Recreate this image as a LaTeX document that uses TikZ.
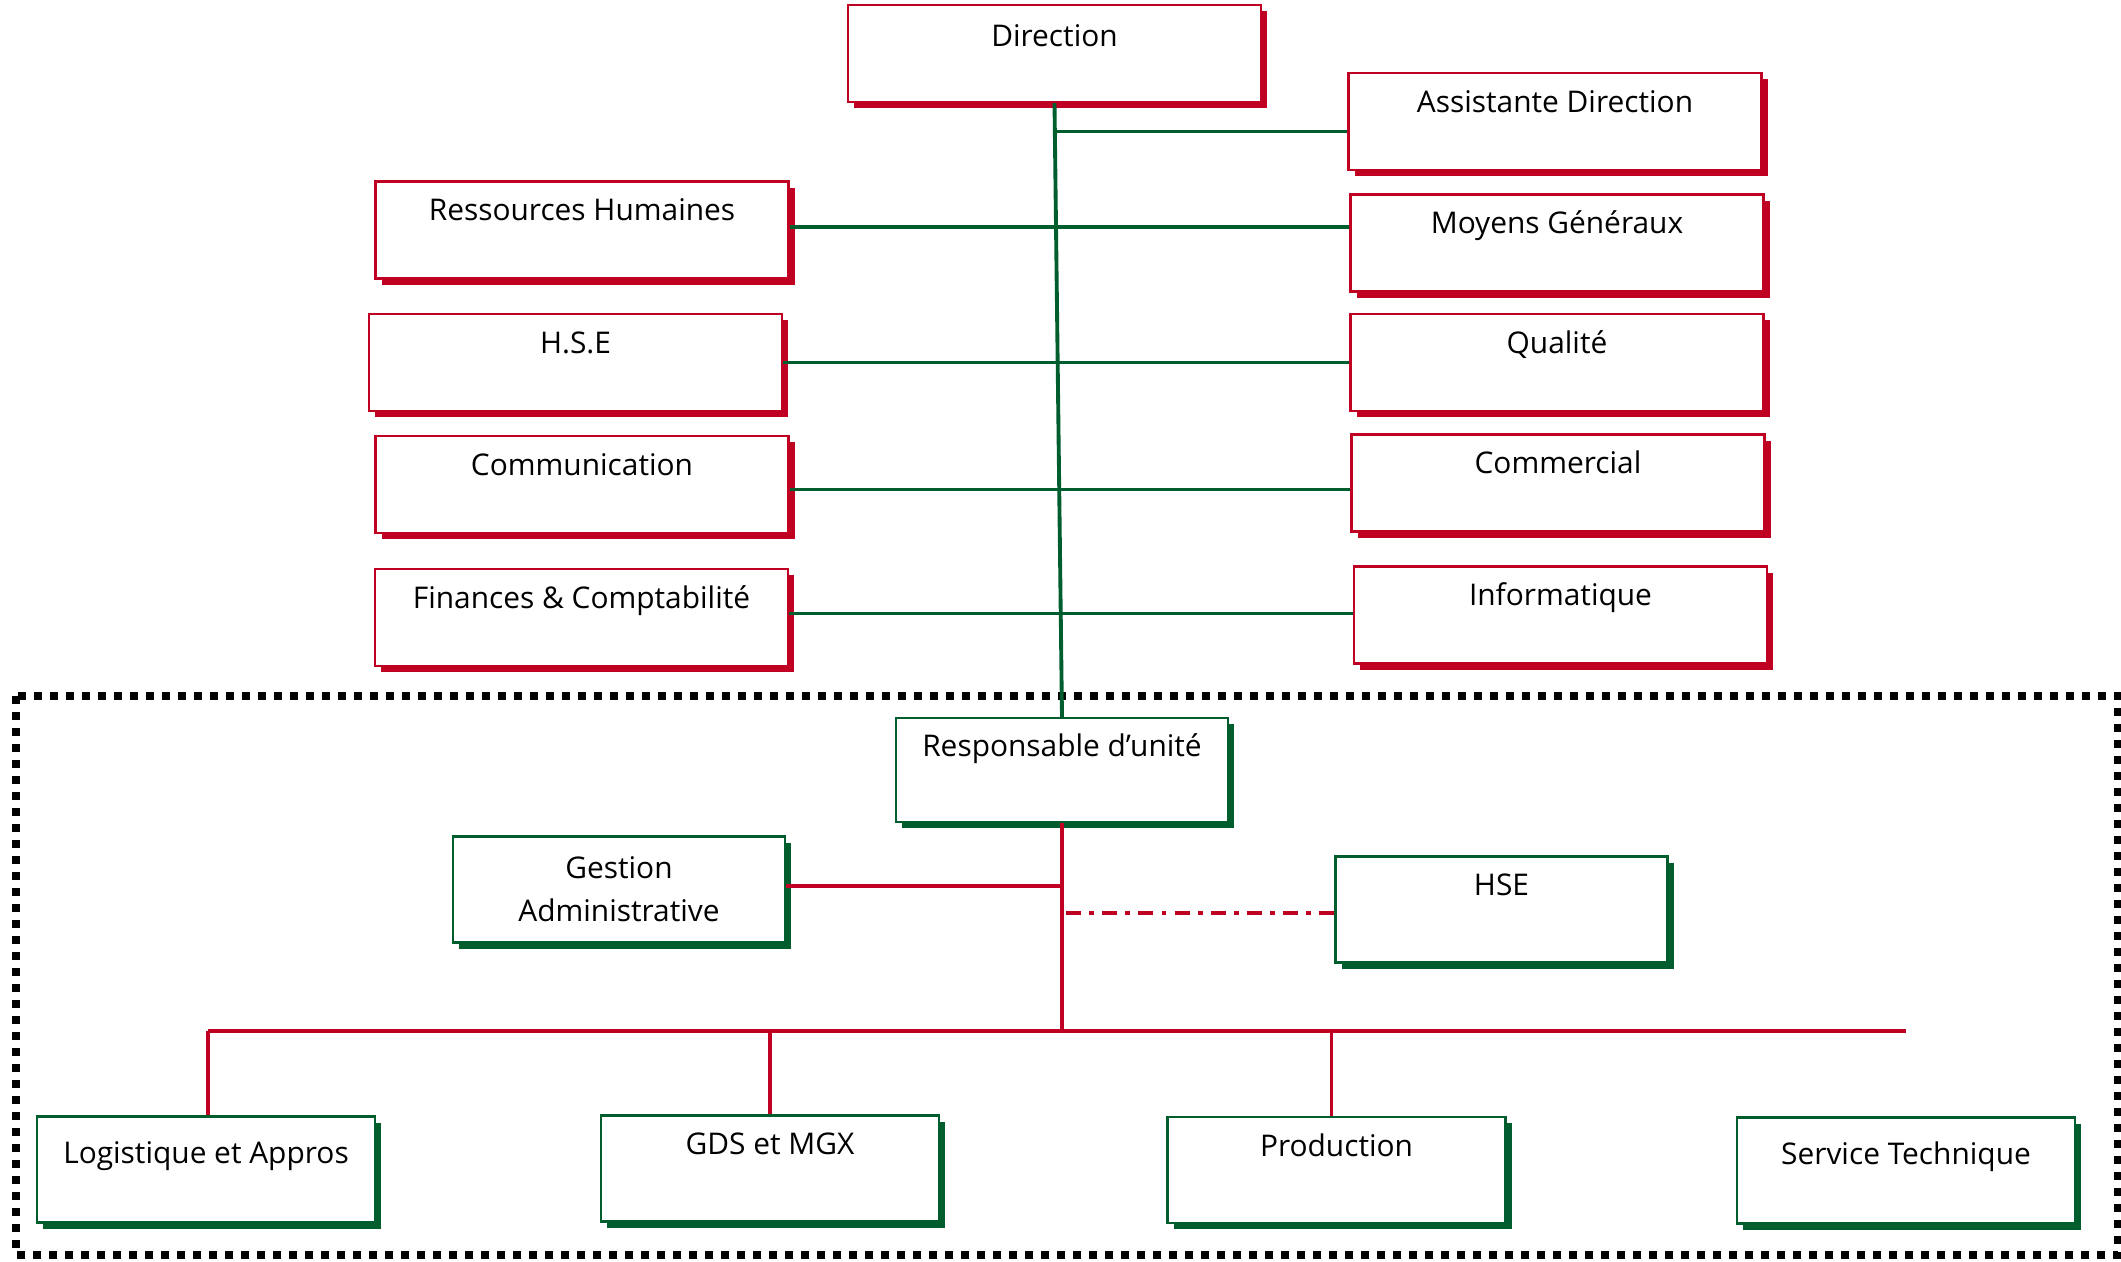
\documentclass[tikz,border=0pt]{standalone}
\usepackage{fontspec}
\setmainfont{Open Sans}
\usetikzlibrary{shadows}
\definecolor{orgred}{RGB}{192,0,34}
\definecolor{orggreen}{RGB}{0,94,46}

\begin{document}
\begin{tikzpicture}[
  dept/.style={draw=orgred, line width=0.6pt, fill=white,
               drop shadow={shadow xshift=0.06cm, shadow yshift=-0.06cm, fill=orgred, opacity=1},
               minimum width=4.13cm, minimum height=0.97cm,
               text height=0.25cm, text depth=0.44cm,
               font=\fontsize{8.5}{10.2}\selectfont},
  unit/.style={draw=orggreen, line width=0.6pt, fill=white,
               drop shadow={shadow xshift=0.06cm, shadow yshift=-0.06cm, fill=orggreen, opacity=1},
               minimum width=3.32cm, minimum height=1.06cm,
               text height=0.25cm, text depth=0.53cm,
               font=\fontsize{8.5}{10.2}\selectfont},
  gline/.style={draw=orggreen, line width=1.1pt},
  rline/.style={draw=orgred, line width=1.1pt}
]
  \useasboundingbox (0,0) rectangle (21.21,-12.61);

  %% Unit frame (dotted)
  \draw[line width=0.075cm, dash pattern=on 0.075cm off 0.085cm]
    (0.16,-6.96) rectangle (21.18,-12.55);

  %% Head office, two columns
  \node[dept, text depth=0.40cm] (dir)  at (10.545,-0.535) {Direction};
  \node[dept] (asst) at (15.55,-1.215)  {Assistante Direction};
  \node[dept] (rh)   at (5.82,-2.30)    {Ressources Humaines};
  \node[dept] (mg)   at (15.57,-2.43)   {Moyens Généraux};
  \node[dept] (hse)  at (5.755,-3.625)  {H.S.E};
  \node[dept] (qual) at (15.57,-3.625)  {Qualité};
  \node[dept] (comm) at (5.82,-4.845)   {Communication};
  \node[dept] (comr) at (15.58,-4.83)   {Commercial};
  \node[dept] (fin)  at (5.815,-6.175)  {Finances \& Comptabilité};
  \node[dept] (info) at (15.605,-6.15)  {Informatique};

  %% Unit
  \node[unit, minimum height=1.04cm] (resp) at (10.62,-7.70) {Responsable d’unité};
  \node[unit, text height=, text depth=, align=center,
        font=\fontsize{8.5}{12.2}\selectfont] (gest) at (6.19,-8.895) {Gestion\\Administrative};
  \node[unit] (hseu) at (15.015,-9.095) {HSE};
  \node[unit, minimum width=3.38cm, text depth=0.38cm] (logi) at (2.06,-11.695)  {Logistique et Appros};
  \node[unit, minimum width=3.38cm] (gds)  at (7.70,-11.685)  {GDS et MGX};
  \node[unit, minimum width=3.38cm] (prod) at (13.365,-11.70) {Production};
  \node[unit, minimum width=3.38cm, text depth=0.38cm] (svc)  at (19.06,-11.705) {Service Technique};

  %% Green links
  \draw[gline] (dir.south) -- (resp.north);
  \draw[gline] ([yshift=-0.1cm]asst.west) -- ([yshift=-0.1cm]asst.west -| dir.south);
  \draw[gline] ([yshift=0.03cm]rh.east) -- ([yshift=0.03cm]rh.east -| mg.west);
  \draw[gline] (hse.east) -- (qual.west);
  \draw[gline] ([yshift=-0.05cm]comm.east) -- ([yshift=-0.05cm]comm.east -| comr.west);
  \draw[gline] ([yshift=0.04cm]fin.east) -- ([yshift=0.04cm]fin.east -| info.west);

  %% Red links
  \coordinate (bus) at (0,-10.31);
  \draw[rline] (resp.south) -- (resp.south |- bus);
  \draw[rline] ([yshift=0.035cm]gest.east) -- ([yshift=0.035cm]gest.east -| resp.south);
  \draw[rline, dash pattern=on 4.3pt off 2.3pt on 1.4pt off 2.3pt]
    ([yshift=-0.035cm]hseu.west) -- ([yshift=-0.035cm]hseu.west -| resp.south);
  \draw[rline] ([xshift=0.02cm]logi.north |- bus) -- (svc.north |- bus);
  \draw[rline] ([xshift=0.02cm]logi.north |- bus) -- ([xshift=0.02cm]logi.north);
  \draw[rline] (gds.north |- bus) -- (gds.north);
  \draw[rline] ([xshift=-0.05cm]prod.north |- bus) -- ([xshift=-0.05cm]prod.north);
\end{tikzpicture}
\end{document}
